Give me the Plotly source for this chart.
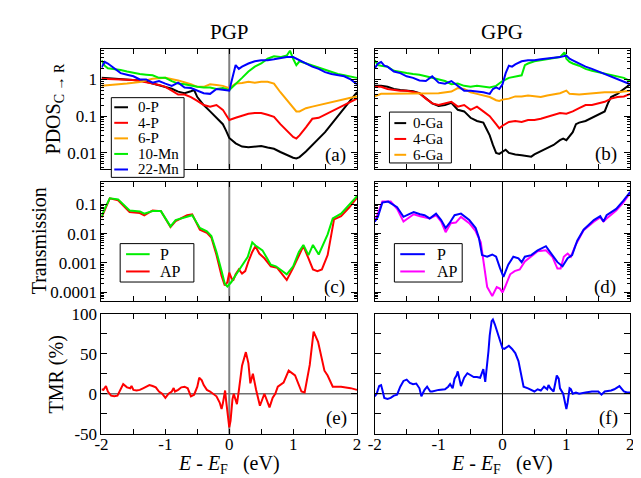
import plotly.graph_objects as go

# ---------------- DATA ----------------
# Panel (a) PGP PDOS
pgp_e_0P = [-2.0,-1.9,-1.8,-1.7,-1.6,-1.5,-1.4,-1.3,-1.2,-1.1,-1.0,-0.9,-0.8,-0.7,-0.6,-0.55,-0.5,-0.4,-0.3,-0.2,-0.1,-0.05,0.0,0.1,0.2,0.3,0.4,0.5,0.6,0.7,0.8,0.9,1.0,1.05,1.1,1.2,1.3,1.4,1.5,1.6,1.7,1.8,1.9,2.0]
pgp_0P = [1.105,1.083,1.062,1.041,1.02,0.98,0.942,0.869,0.787,0.711,0.644,0.56,0.467,0.423,0.477,0.516,0.332,0.201,0.135,0.0905,0.0606,0.0406,0.0256,0.0182,0.0149,0.0143,0.0149,0.0155,0.0141,0.013,0.0106,0.0087,0.0074,0.0071,0.0077,0.011,0.0165,0.0246,0.0367,0.0606,0.1,0.165,0.272,0.449]
pgp_e_4P = [-2.0,-1.8,-1.6,-1.5,-1.4,-1.3,-1.2,-1.1,-1.0,-0.9,-0.8,-0.7,-0.6,-0.5,-0.4,-0.3,-0.2,-0.1,-0.05,0.0,0.1,0.2,0.3,0.4,0.5,0.6,0.7,0.8,0.9,1.0,1.05,1.1,1.2,1.25,1.3,1.4,1.5,1.6,1.7,1.8,1.9,2.0]
pgp_4P = [1.041,1.02,0.98,0.96,0.905,0.852,0.771,0.711,0.631,0.496,0.39,0.39,0.332,0.262,0.201,0.182,0.201,0.149,0.11,0.0787,0.0905,0.104,0.117,0.122,0.122,0.11,0.0963,0.0606,0.0406,0.0272,0.0246,0.0301,0.0497,0.067,0.085,0.0905,0.11,0.135,0.165,0.201,0.246,0.301]
pgp_e_6P = [-2.0,-1.8,-1.6,-1.4,-1.2,-1.0,-0.8,-0.6,-0.5,-0.4,-0.3,-0.2,-0.1,0.0,0.1,0.2,0.3,0.4,0.5,0.6,0.7,0.8,0.9,1.0,1.05,1.1,1.2,1.3,1.4,1.5,1.6,1.7,1.8,1.9,2.0]
pgp_6P = [0.67,0.711,0.771,0.852,1.041,1.105,0.942,0.741,0.631,0.631,0.741,0.711,0.67,0.582,0.771,0.802,0.869,0.818,0.869,0.869,0.771,0.449,0.272,0.165,0.135,0.135,0.165,0.182,0.201,0.223,0.246,0.261,0.301,0.319,0.346]
pgp_e_10Mn = [-2.0,-1.95,-1.9,-1.8,-1.7,-1.6,-1.5,-1.4,-1.3,-1.2,-1.1,-1.0,-0.9,-0.8,-0.7,-0.6,-0.5,-0.4,-0.3,-0.2,-0.1,0.0,0.1,0.2,0.3,0.4,0.5,0.6,0.7,0.8,0.9,0.95,1.0,1.05,1.1,1.2,1.3,1.4,1.5,1.6,1.7,1.8,1.9,2.0]
pgp_10Mn = [3.32,2.37,2.01,1.94,1.82,1.65,1.49,1.41,1.35,1.30,1.105,1.105,0.905,0.771,0.741,0.67,0.631,0.606,0.606,0.548,0.582,0.516,0.741,1.105,1.65,2.23,2.72,3.67,4.3,4.06,4.49,6.07,3.67,2.46,3.13,2.72,2.37,2.10,1.82,1.58,1.41,1.30,1.22,1.105]
pgp_e_22Mn = [-2.0,-1.95,-1.9,-1.8,-1.7,-1.6,-1.5,-1.4,-1.3,-1.2,-1.1,-1.0,-0.9,-0.8,-0.7,-0.6,-0.5,-0.4,-0.3,-0.2,-0.1,0.0,0.05,0.1,0.15,0.2,0.3,0.4,0.5,0.6,0.7,0.8,0.9,1.0,1.1,1.2,1.3,1.4,1.5,1.6,1.7,1.8,1.9,2.0]
pgp_22Mn = [2.10,3.01,2.72,2.01,1.49,1.35,1.22,1.0,1.0,0.818,0.905,0.771,0.67,0.818,0.606,0.582,0.496,0.423,0.406,0.548,0.527,0.496,1.105,2.46,1.94,2.23,2.72,3.13,3.32,3.32,3.53,3.83,4.06,4.06,3.32,2.72,2.23,1.94,1.58,1.41,1.30,1.22,1.0,0.741]

# Panel (b) GPG PDOS
gpg_e_0Ga = [-2.0,-1.9,-1.8,-1.7,-1.6,-1.5,-1.4,-1.3,-1.2,-1.1,-1.0,-0.9,-0.8,-0.7,-0.6,-0.5,-0.4,-0.3,-0.25,-0.2,-0.15,-0.1,-0.05,0.0,0.05,0.1,0.2,0.3,0.4,0.45,0.5,0.6,0.7,0.8,0.9,0.95,1.0,1.1,1.15,1.2,1.3,1.4,1.5,1.6,1.65,1.7,1.8,1.9,2.0]
gpg_0Ga = [0.67,0.67,0.631,0.548,0.516,0.496,0.477,0.423,0.301,0.223,0.19,0.201,0.232,0.149,0.135,0.0905,0.0741,0.067,0.045,0.0301,0.0165,0.01,0.0094,0.011,0.0122,0.01,0.0091,0.0087,0.0082,0.0079,0.0091,0.011,0.0135,0.0165,0.0223,0.0246,0.0223,0.0367,0.0606,0.067,0.0741,0.0905,0.11,0.135,0.223,0.332,0.406,0.548,0.741]
gpg_e_4Ga = [-2.0,-1.9,-1.8,-1.6,-1.5,-1.4,-1.3,-1.2,-1.1,-1.0,-0.9,-0.8,-0.7,-0.6,-0.5,-0.4,-0.3,-0.2,-0.1,-0.05,0.0,0.1,0.2,0.3,0.4,0.5,0.6,0.7,0.8,0.9,1.0,1.1,1.2,1.3,1.4,1.5,1.6,1.7,1.8,1.9,2.0]
gpg_4Ga = [0.631,0.631,0.548,0.496,0.496,0.449,0.423,0.301,0.223,0.201,0.223,0.246,0.182,0.201,0.149,0.182,0.135,0.1,0.0606,0.0468,0.0549,0.0697,0.0741,0.0697,0.0787,0.0787,0.0852,0.0963,0.104,0.122,0.117,0.135,0.165,0.201,0.201,0.223,0.246,0.301,0.332,0.346,0.406]
gpg_e_6Ga = [-2.0,-1.9,-1.8,-1.6,-1.4,-1.2,-1.0,-0.8,-0.7,-0.6,-0.5,-0.4,-0.3,-0.2,-0.1,-0.05,0.0,0.1,0.2,0.3,0.4,0.5,0.6,0.7,0.8,0.9,1.0,1.05,1.2,1.4,1.6,1.8,2.0]
gpg_6Ga = [0.346,0.406,0.406,0.406,0.423,0.406,0.423,0.467,0.582,0.548,0.449,0.406,0.367,0.332,0.272,0.261,0.283,0.301,0.346,0.346,0.367,0.346,0.332,0.367,0.39,0.423,0.496,0.406,0.39,0.423,0.449,0.449,0.496]
gpg_e_10Mn = [-2.0,-1.95,-1.9,-1.8,-1.7,-1.6,-1.5,-1.4,-1.3,-1.2,-1.1,-1.0,-0.9,-0.8,-0.7,-0.6,-0.5,-0.4,-0.3,-0.2,-0.1,0.0,0.1,0.2,0.3,0.35,0.4,0.5,0.6,0.7,0.8,0.9,0.97,1.0,1.05,1.1,1.2,1.3,1.4,1.5,1.6,1.7,1.8,1.9,2.0]
gpg_10Mn = [3.32,2.46,2.37,2.23,1.72,1.58,1.49,1.41,1.35,1.22,1.105,1.0,0.905,0.741,0.771,0.67,0.631,0.67,0.631,0.606,0.67,0.905,1.105,1.22,1.30,2.46,2.72,3.13,3.32,3.53,3.67,4.06,5.48,3.67,3.01,2.72,2.37,1.94,1.72,1.58,1.49,1.35,1.22,1.105,0.905]
gpg_e_22Mn = [-2.0,-1.95,-1.9,-1.85,-1.8,-1.7,-1.6,-1.5,-1.4,-1.3,-1.2,-1.1,-1.0,-0.9,-0.8,-0.7,-0.6,-0.5,-0.4,-0.3,-0.2,-0.15,-0.1,-0.05,0.0,0.05,0.1,0.15,0.2,0.3,0.4,0.5,0.6,0.7,0.8,0.9,1.0,1.05,1.1,1.2,1.3,1.4,1.5,1.6,1.7,1.8,1.9,2.0]
gpg_22Mn = [2.01,2.72,3.01,2.37,2.23,1.65,1.49,1.22,1.105,0.942,0.905,1.22,0.818,0.771,0.905,0.67,0.496,0.496,0.477,0.449,0.406,0.548,0.606,0.548,0.741,1.49,2.37,2.23,2.56,3.13,3.32,3.32,3.53,3.67,3.83,4.06,4.49,3.67,3.32,2.72,2.23,1.94,1.65,1.41,1.22,1.062,0.905,0.741]

# Panel (c) PGP transmission
pgp_e_TP = [-2.0,-1.95,-1.87,-1.74,-1.56,-1.4,-1.33,-1.2,-1.07,-0.92,-0.84,-0.66,-0.58,-0.46,-0.35,-0.28,-0.2,-0.12,-0.07,-0.03,0.03,0.11,0.21,0.29,0.36,0.41,0.52,0.65,0.73,0.9,1.0,1.09,1.16,1.24,1.31,1.4,1.54,1.62,1.75,1.88,2.0]
pgp_TP = [0.0376,0.0703,0.161,0.149,0.0621,0.0575,0.0483,0.059,0.059,0.0177,0.0292,0.0376,0.0426,0.0156,0.0121,0.00832,0.00237,0.000526,0.000193,0.000157,0.000218,0.000409,0.000869,0.00163,0.00504,0.00392,0.00269,0.000869,0.000766,0.000409,0.000766,0.00237,0.00412,0.00185,0.00412,0.00194,0.00944,0.0331,0.0483,0.1026,0.192]
pgp_e_TAP = [-2.0,-1.95,-1.87,-1.74,-1.56,-1.4,-1.33,-1.2,-1.07,-0.92,-0.84,-0.66,-0.58,-0.46,-0.35,-0.28,-0.2,-0.12,-0.07,-0.03,0.0,0.03,0.06,0.1,0.15,0.2,0.25,0.3,0.36,0.41,0.47,0.55,0.65,0.75,0.9,1.0,1.09,1.16,1.24,1.31,1.38,1.45,1.54,1.6,1.64,1.75,1.88,2.0]
pgp_TAP = [0.0357,0.0621,0.161,0.139,0.0547,0.0508,0.0426,0.0621,0.059,0.0168,0.0271,0.0426,0.0459,0.0137,0.0107,0.00735,0.00185,0.000361,0.00017,0.000218,0.000464,0.000318,0.000248,0.000409,0.000596,0.00043,0.000526,0.00112,0.00237,0.00373,0.00209,0.00144,0.000766,0.000676,0.00026,0.000676,0.00185,0.00373,0.00144,0.000596,0.000526,0.000596,0.00185,0.0107,0.0307,0.0395,0.0798,0.169]

# Panel (d) GPG transmission
gpg_e_TP = [-2.0,-1.95,-1.88,-1.79,-1.65,-1.55,-1.47,-1.39,-1.29,-1.22,-1.14,-1.04,-0.96,-0.89,-0.83,-0.75,-0.65,-0.52,-0.42,-0.37,-0.32,-0.24,-0.16,-0.1,-0.04,0.015,0.09,0.17,0.25,0.3,0.35,0.45,0.55,0.68,0.78,0.86,0.94,1.02,1.09,1.17,1.27,1.43,1.53,1.58,1.63,1.78,1.89,2.0]
gpg_TP = [0.0258,0.0376,0.116,0.125,0.0798,0.0376,0.0459,0.0547,0.0459,0.0426,0.0331,0.0483,0.0292,0.0156,0.0227,0.0426,0.0483,0.0292,0.0156,0.00735,0.00185,0.00163,0.00194,0.00163,0.000676,0.000334,0.000869,0.00163,0.00144,0.00106,0.00163,0.00185,0.00269,0.00373,0.00185,0.00106,0.000766,0.00144,0.00185,0.00571,0.0137,0.0292,0.0395,0.0258,0.0426,0.0703,0.132,0.266]
gpg_e_TAP = [-2.0,-1.88,-1.75,-1.65,-1.55,-1.39,-1.29,-1.14,-1.04,-0.96,-0.89,-0.81,-0.73,-0.65,-0.52,-0.42,-0.34,-0.29,-0.24,-0.16,-0.09,-0.04,0.0,0.04,0.12,0.19,0.27,0.35,0.45,0.55,0.68,0.78,0.86,0.91,0.96,1.02,1.07,1.14,1.27,1.43,1.53,1.58,1.63,1.78,1.89,2.0]
gpg_TAP = [0.0258,0.125,0.125,0.0703,0.0258,0.0459,0.0395,0.0331,0.0426,0.0258,0.01125,0.0227,0.0239,0.0376,0.0227,0.0121,0.00504,0.000869,0.00015,0.0000741,0.00015,0.000132,0.0000977,0.00015,0.000409,0.000526,0.000596,0.00112,0.00163,0.00249,0.00269,0.00163,0.000643,0.000643,0.00163,0.00209,0.00163,0.00392,0.0131,0.0258,0.0357,0.0258,0.0331,0.0621,0.116,0.247]

# Panel (e) PGP TMR (%)
pgp_e_tmr = [-2.0,-1.97,-1.93,-1.9,-1.85,-1.8,-1.75,-1.7,-1.66,-1.6,-1.55,-1.53,-1.5,-1.45,-1.4,-1.35,-1.3,-1.25,-1.2,-1.15,-1.1,-1.05,-1.0,-0.95,-0.9,-0.87,-0.85,-0.8,-0.75,-0.7,-0.65,-0.6,-0.55,-0.5,-0.47,-0.43,-0.4,-0.35,-0.3,-0.25,-0.2,-0.15,-0.12,-0.1,-0.08,-0.065,-0.05,-0.03,0.0,0.02,0.05,0.07,0.1,0.12,0.15,0.2,0.26,0.3,0.33,0.37,0.42,0.48,0.55,0.59,0.63,0.68,0.72,0.76,0.85,0.93,1.03,1.13,1.18,1.26,1.32,1.39,1.49,1.54,1.62,1.75,1.9,2.0]
pgp_tmr = [5.6,4.8,9.6,2.8,-2.4,-3.2,-2.4,4.8,12.0,8.0,6.8,9.6,4.8,4.0,4.8,6.8,8.8,10.8,9.6,8.0,2.8,0.0,-5.2,0.0,2.8,7.2,2.8,4.8,8.0,8.8,6.8,-3.2,-1.2,8.8,20.0,16.8,10.8,4.8,2.8,0.0,-3.2,-11.0,-19.0,-12.0,0.0,4.0,-8.0,-22.0,-42.0,-34.0,-7.0,0.0,-7.0,-13.0,4.0,35.0,52.0,38.0,13.0,25.0,5.0,-15.0,0.0,-8.0,-17.0,-5.0,0.0,8.8,14.0,28.8,22.8,2.8,1.6,36.0,77.6,64.8,28.8,22.8,8.8,8.8,7.0,4.8]

# Panel (f) GPG TMR (%)
gpg_e_tmr = [-2.0,-1.97,-1.93,-1.9,-1.88,-1.85,-1.8,-1.75,-1.7,-1.65,-1.6,-1.55,-1.5,-1.45,-1.4,-1.35,-1.3,-1.27,-1.22,-1.18,-1.13,-1.1,-1.0,-0.95,-0.9,-0.85,-0.82,-0.78,-0.75,-0.72,-0.7,-0.65,-0.6,-0.55,-0.5,-0.45,-0.4,-0.35,-0.3,-0.27,-0.22,-0.2,-0.17,-0.15,-0.12,-0.08,-0.04,0.0,0.03,0.1,0.15,0.2,0.25,0.3,0.33,0.4,0.45,0.5,0.55,0.6,0.65,0.7,0.72,0.75,0.8,0.85,0.88,0.9,0.95,0.97,1.0,1.02,1.05,1.07,1.1,1.15,1.2,1.3,1.4,1.5,1.55,1.6,1.7,1.75,1.8,1.83,1.9,1.95,2.0]
gpg_tmr = [-3.2,0.0,9.6,10.8,4.8,-5.2,-6.4,-5.2,-2.4,-1.2,8.8,16.0,17.6,13.6,12.0,12.8,6.8,-3.2,4.8,8.8,2.8,2.8,4.8,4.8,5.6,8.8,12.0,6.8,18.8,22.8,28.0,9.6,20.0,25.6,22.8,20.8,20.8,20.0,30.8,14.8,52.8,72.8,90.8,92.8,86.8,76.8,64.8,56.8,56.0,60.0,56.0,50.8,40.8,22.8,8.8,6.8,4.8,2.8,5.6,4.0,8.8,5.6,10.8,6.8,2.8,22.8,18.8,6.8,0.0,-9.2,-19.2,-11.2,6.8,5.6,0.0,1.6,0.0,1.6,2.8,2.8,-1.2,2.8,4.0,5.6,8.8,9.6,2.8,1.6,1.6]

x_tick_vals = [-2, -1.5, -1, -0.5, 0, 0.5, 1, 1.5, 2]
x_tick_text = ["-2", "", "-1", "", "0", "", "1", "", "2"]
pdos_tick_vals = [0.01, 0.1, 1]
pdos_tick_text = ["0.01", "0.1", "1"]
trans_tick_vals = [0.0001, 0.001, 0.01, 0.1]
trans_tick_text = ["0.0001", "0.001", "0.01", "0.1"]
tmr_tick_vals = [-50, -25, 0, 25, 50, 75, 100]
tmr_tick_text = ["-50", "", "0", "", "50", "", "100"]

legend_a = ["0-P", "4-P", "6-P", "10-Mn", "22-Mn"]
legend_b = ["0-Ga", "4-Ga", "6-Ga"]
legend_cd = ["P", "AP"]

# ---------------- FIGURE ----------------
FONT = "Liberation Serif"
W, H = 641, 478
BLACK, RED, ORANGE, GREEN, BLUE, MAGENTA = "#000000", "#ff0000", "#ffa500", "#00ee00", "#0000ff", "#ff00ff"

fig = go.Figure()

def add(x, y, name, color, ax):
    fig.add_trace(go.Scatter(
        x=x, y=y, mode="lines", name=name, showlegend=False,
        line=dict(color=color, width=2),
        xaxis="x" + ax, yaxis="y" + ax))

add(pgp_e_0P, pgp_0P, "0-P", BLACK, "")
add(pgp_e_4P, pgp_4P, "4-P", RED, "")
add(pgp_e_6P, pgp_6P, "6-P", ORANGE, "")
add(pgp_e_10Mn, pgp_10Mn, "10-Mn", GREEN, "")
add(pgp_e_22Mn, pgp_22Mn, "22-Mn", BLUE, "")

add(gpg_e_0Ga, gpg_0Ga, "0-Ga", BLACK, "2")
add(gpg_e_4Ga, gpg_4Ga, "4-Ga", RED, "2")
add(gpg_e_6Ga, gpg_6Ga, "6-Ga", ORANGE, "2")
add(gpg_e_10Mn, gpg_10Mn, "10-Mn", GREEN, "2")
add(gpg_e_22Mn, gpg_22Mn, "22-Mn", BLUE, "2")

add(pgp_e_TAP, pgp_TAP, "AP", RED, "3")
add(pgp_e_TP, pgp_TP, "P", GREEN, "3")

add(gpg_e_TAP, gpg_TAP, "AP", MAGENTA, "4")
add(gpg_e_TP, gpg_TP, "P", BLUE, "4")

add(pgp_e_tmr, pgp_tmr, "TMR", RED, "5")
add(gpg_e_tmr, gpg_tmr, "TMR", BLUE, "6")

XL = [88 / W, 348 / W]
XR = [366 / W, 626 / W]
YA = [1 - 158 / H, 1 - 33.3 / H]
YC = [1 - 295.7 / H, 1 - 171.7 / H]
YE = [1 - 434 / H, 1 - 309 / H]

tickfont = dict(family=FONT, size=17, color="black")

def xax(dom, anchor, labels):
    return dict(domain=dom, anchor=anchor, range=[-2, 2], tickmode="array",
                tickvals=x_tick_vals, ticktext=x_tick_text, ticks="inside",
                ticklen=5, tickwidth=1, tickcolor="black", mirror="allticks",
                showline=True, linecolor="black", linewidth=1, showgrid=False,
                zeroline=False, showticklabels=labels, tickfont=tickfont,
                ticklabelstandoff=-5)

def minor_log(lo, hi):
    vals = []
    for d in range(lo, hi):
        for k in range(2, 10):
            vals.append(k * 10.0 ** d)
    return vals

def yax(dom, anchor, kind, labels):
    base = dict(domain=dom, anchor=anchor, ticks="inside", ticklen=6, tickwidth=1,
                tickcolor="black", mirror="allticks", showline=True,
                linecolor="black", linewidth=1, showgrid=False, zeroline=False,
                showticklabels=labels, tickfont=tickfont, tickmode="array")
    if kind == "pdos":
        base.update(type="log", range=[-2.43, 0.83], tickvals=pdos_tick_vals,
                    ticktext=pdos_tick_text,
                    minor=dict(tickmode="array", tickvals=minor_log(-3, 1),
                               ticks="inside", ticklen=3, tickcolor="black"))
    elif kind == "trans":
        base.update(type="log", range=[-4.3, -0.23], tickvals=trans_tick_vals,
                    ticktext=trans_tick_text,
                    minor=dict(tickmode="array", tickvals=minor_log(-5, 0),
                               ticks="inside", ticklen=3, tickcolor="black"))
    else:
        base.update(range=[-50, 100], tickvals=tmr_tick_vals, ticktext=tmr_tick_text)
    return base

fig.update_layout(
    width=W, height=H, margin=dict(l=0, r=0, t=0, b=0),
    paper_bgcolor="white", plot_bgcolor="white", showlegend=False,
    font=dict(family=FONT, color="black"),
    xaxis=xax(XL, "y", False), yaxis=yax(YA, "x", "pdos", True),
    xaxis2=xax(XR, "y2", False), yaxis2=yax(YA, "x2", "pdos", False),
    xaxis3=xax(XL, "y3", False), yaxis3=yax(YC, "x3", "trans", True),
    xaxis4=xax(XR, "y4", False), yaxis4=yax(YC, "x4", "trans", False),
    xaxis5=xax(XL, "y5", True), yaxis5=yax(YE, "x5", "tmr", True),
    xaxis6=xax(XR, "y6", True), yaxis6=yax(YE, "x6", "tmr", False),
)

# zero lines
shapes = []
for ax, col, wd in [("", "#808080", 2), ("3", "#808080", 2), ("5", "#808080", 2),
                    ("2", "black", 1), ("4", "black", 1), ("6", "black", 1)]:
    shapes.append(dict(type="line", xref="x" + ax, yref="y" + ax + " domain",
                       x0=0, x1=0, y0=0, y1=1, line=dict(color=col, width=wd),
                       layer="below"))
shapes.append(dict(type="line", xref="x5 domain", yref="y5", x0=0, x1=1, y0=0, y1=0,
                   line=dict(color="#707070", width=1.5), layer="below"))
shapes.append(dict(type="line", xref="x6 domain", yref="y6", x0=0, x1=1, y0=0, y1=0,
                   line=dict(color="black", width=1), layer="below"))

def px(x):
    return x / W

def py(y):
    return 1 - y / H

annotations = []

def ann(text, x, y, size, angle=0, xanchor="center"):
    annotations.append(dict(text=text, x=px(x), y=py(y), xref="paper", yref="paper",
                            showarrow=False, textangle=angle, xanchor=xanchor,
                            yanchor="middle",
                            font=dict(family=FONT, size=size, color="black")))

# manual legend boxes (Grace-style)
def legend_box(box, names, colors, line_x, text_x, ys, size):
    x0, y0, x1, y1 = box
    shapes.append(dict(type="rect", xref="paper", yref="paper", x0=px(x0), x1=px(x1),
                       y0=py(y1), y1=py(y0), fillcolor="white",
                       line=dict(color="black", width=1), layer="above"))
    for name, col, y in zip(names, colors, ys):
        shapes.append(dict(type="line", xref="paper", yref="paper", x0=px(line_x[0]),
                           x1=px(line_x[1]), y0=py(y), y1=py(y),
                           line=dict(color=col, width=2), layer="above"))
        ann(name, text_x, y, size, xanchor="left")

legend_box((98, 84, 172, 167), legend_a, [BLACK, RED, ORANGE, GREEN, BLUE],
           (101, 115), 123, [94, 110.2, 126.4, 142.6, 158.8], 15)
legend_box((381, 99, 444, 152), legend_b, [BLACK, RED, ORANGE],
           (386, 398), 403, [110.5, 127, 143.5], 15)
legend_box((107, 236, 182, 276), legend_cd, [GREEN, RED],
           (113, 137), 146, [247, 265], 16)
legend_box((386, 236, 455, 276), legend_cd, [BLUE, MAGENTA],
           (392, 417), 427, [247, 265], 16)

ann("PGP", 218, 16, 21)
ann("GPG", 496, 16, 21)
ann("PDOS<sub>C → R</sub>", 40, 96, 20, -90)
ann("Transmission", 24, 233, 20, -90)
ann("TMR (%)", 42, 372, 20, -90)
ann("<i>E</i> - <i>E</i><sub>F</sub>&nbsp;&nbsp;&nbsp;(eV)", 218, 466, 20)
ann("<i>E</i> - <i>E</i><sub>F</sub>&nbsp;&nbsp;&nbsp;(eV)", 496, 466, 20)
for lab, x, y in [("(a)", 326, 143.5), ("(b)", 601, 143), ("(c)", 325, 281),
                  ("(d)", 600, 281), ("(e)", 327, 418), ("(f)", 604, 418)]:
    ann(lab, x, y, 19)

fig.update_layout(shapes=shapes, annotations=annotations)

fig.write_html("out.html")
